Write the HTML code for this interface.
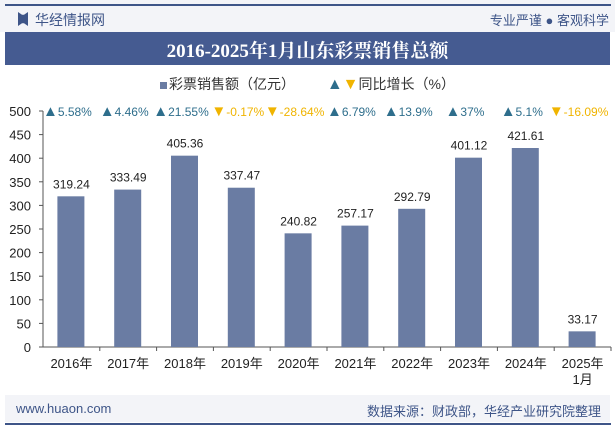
<!DOCTYPE html>
<html><head><meta charset="utf-8"><style>
body{margin:0;width:615px;height:427px;background:#fff;font-family:"Liberation Sans","Noto Sans CJK SC",sans-serif;overflow:hidden;position:relative}
.abs{position:absolute}
</style></head><body>
<div class="abs" style="left:0;top:0;width:615px;height:32px;background:#f3f4f8"></div>
<div class="abs" style="left:5px;top:4px;width:606px;height:2px;background:#3e5588"></div>
<div class="abs" style="left:18px;top:12px;width:10px;height:14px;background:#3e5588;clip-path:polygon(0 0,40% 20%,60% 20%,100% 0,100% 100%,60% 80%,40% 80%,0 100%)"></div>
<div class="abs" style="left:35px;top:10px;font-size:14px;color:#3e5588">华经情报网</div>
<div class="abs" style="right:6px;top:10px;font-size:13px;color:#3e5588">专业严谨 ● 客观科学</div>
<div class="abs" style="left:5px;right:5px;top:32px;height:33px;background:#455b91"></div>
<div class="abs" style="left:5px;right:5px;top:36px;text-align:center;font-size:19px;font-weight:bold;color:#fff;font-family:'Liberation Serif','Noto Serif CJK SC',serif">2016-2025年1月山东彩票销售总额</div>
<div class="abs" style="left:0;width:615px;top:74px;text-align:center;font-size:14px;color:#333">
<span><span style="display:inline-block;width:7px;height:7px;background:#6a7ca3;margin-right:2px"></span>彩票销售额（亿元）</span>
<span style="display:inline-block;width:24px"></span>
<span><span style="color:#2e6e8c;font-size:16px">▲</span><span style="color:#f0b400;font-size:16px">▼</span>同比增长（%）</span></div>
<svg id="chart" class="abs" style="left:0;top:0" width="615" height="427"></svg>
<div class="abs" style="left:5px;right:5px;top:395px;height:27px;background:#f3f4f8"></div>
<div class="abs" style="left:16px;top:401px;font-size:13px;color:#3e5588">www.huaon.com</div>
<div class="abs" style="right:14px;top:401px;font-size:13px;color:#3e5588">数据来源：财政部，华经产业研究院整理</div>
<div class="abs" style="left:5px;top:423px;width:606px;height:2px;background:#3e5588"></div>
<script>
const categories=["2016年","2017年","2018年","2019年","2020年","2021年","2022年","2023年","2024年","2025年\n1月"];
const salesValues=[319.24,333.49,405.36,337.47,240.82,257.17,292.79,401.12,421.61,33.17];
const growthValues=[5.58,4.46,21.55,-0.17,-28.64,6.79,13.9,37,5.1,-16.09];
const yTicks=[0,50,100,150,200,250,300,350,400,450,500];
const svg=document.getElementById('chart');const NS='http://www.w3.org/2000/svg';
const x0=43,x1=611,yb=347,yt=111,ymax=500;
const cw=(x1-x0)/categories.length;
const y=v=>yb-(v/ymax)*(yb-yt);
const xc=i=>x0+cw*(i+0.5);
function mk(t,a,txt,parent){const e=document.createElementNS(NS,t);for(const k in a)e.setAttribute(k,a[k]);if(txt!=null)e.textContent=txt;(parent||svg).appendChild(e);return e;}
let ax=mk('line',{x1:x0,x2:x0,y1:yt,y2:yb,stroke:'#555'});

let bx=mk('line',{x1:x0,x2:x1,y1:yb,y2:yb,stroke:'#555'});

yTicks.forEach(v=>{mk('line',{x1:x0-4,x2:x0,y1:y(v),y2:y(v),stroke:'#555'});
const t=mk('text',{x:x0-12,y:y(v)+5,'text-anchor':'end','font-size':13,fill:'#222'},v);
});
categories.forEach((c,i)=>{
mk('line',{x1:x0+cw*(i+1),x2:x0+cw*(i+1),y1:yb,y2:yb+4,stroke:'#555'});
const v=salesValues[i];
const r=mk('rect',{x:xc(i)-14,y:y(v),width:27,height:yb-y(v),fill:'#6a7ca3'});

const l=mk('text',{x:xc(i),y:y(v)-8,'text-anchor':'middle','font-size':12,fill:'#222'},v.toFixed(2));

c.split('\n').forEach((p,j)=>{const t=mk('text',{x:xc(i),y:368+j*16,'text-anchor':'middle','font-size':13,fill:'#222'},p);
});
const g=growthValues[i];const up=g>=0;
const gt=mk('text',{x:xc(i)-4,y:116,'text-anchor':'middle','font-size':12,fill:up?'#2e6e8c':'#f0b400'});

mk('tspan',{'font-size':15},up?'▲':'▼',gt);
mk('tspan',{},g+'%',gt);
});
</script>
</body></html>
